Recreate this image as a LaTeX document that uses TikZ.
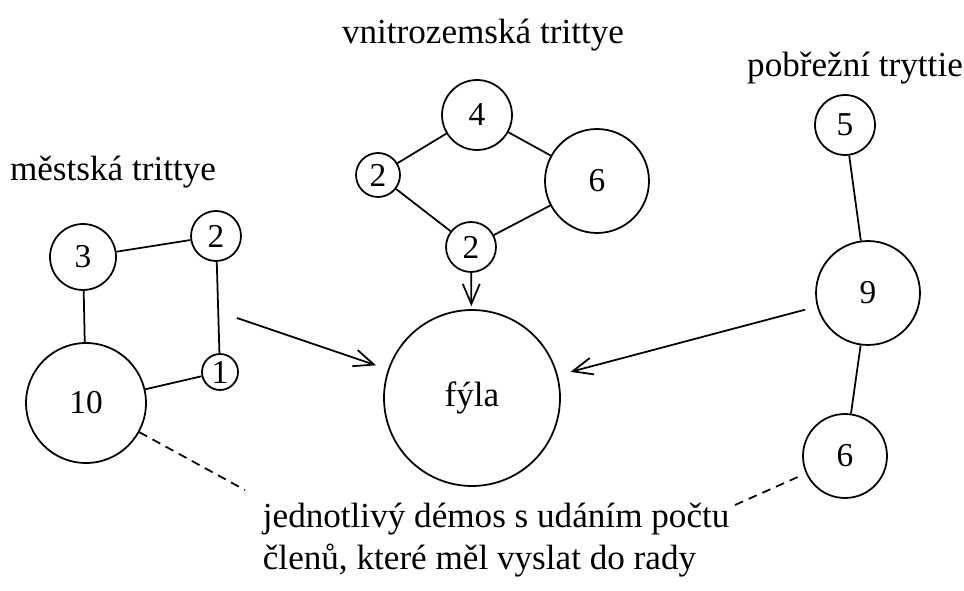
\documentclass[tikz,border=0pt]{standalone}
\usepackage{fontspec}
\setmainfont{Liberation Serif}
\usepackage{tikz}
\usetikzlibrary{arrows,arrows.meta,automata}

\begin{document}
\begin{tikzpicture}[x=0.02cm,y=-0.02cm,>={Straight Barb[length=4mm,width=3.4mm]},auto,
		line width=1pt]
		\tikzstyle{every state}=[fill=white,draw=black,text=black,inner sep=0pt,
		font=\fontsize{19}{22}\selectfont]
		\tikzstyle{heading}=[font=\fontsize{20}{24}\selectfont,inner sep=0pt]
		\useasboundingbox (0,0) rectangle (964,591);
		
		% mestska trittye
		\node[heading] (lm) at (113,172) {městská trittye};
		\node[state, minimum size=1.32cm] (m3)  at (83,257)  {3};
		\node[state, minimum size=1.0cm]  (m2)  at (216,236) {2};
		\node[state, minimum size=0.72cm] (m1)  at (220,372) {1};
		\node[state, minimum size=2.4cm]  (m10) at (86,403)  {10};
		\coordinate (mout) at (237,318);
		
		% vnitrozemska trittye
		\node[heading] (lv) at (483,35) {vnitrozemská trittye};
		\node[state, minimum size=1.4cm]  (v4)  at (477,115) {4};
		\node[state, minimum size=0.88cm] (v2a) at (378,175) {2};
		\node[state, minimum size=2.08cm] (v6)  at (597,181) {6};
		\node[state, minimum size=1.0cm]  (v2b) at (471,247) {2};
		
		% pobrezni trittye
		\node[heading] (lp) at (855,68) {pobřežní tryttie};
		\node[state, minimum size=1.2cm]  (p5) at (845,125) {5};
		\node[state, minimum size=2.08cm] (p9) at (868,293) {9};
		\node[state, minimum size=1.68cm] (p6) at (845,456) {6};
		
		\node[state, minimum size=3.52cm, font=\fontsize{20}{24}\selectfont] (fyla) at (472,398) {fýla};
		
		\node[heading, anchor=west, align=left] (leg) at (262,540)
		{jednotlivý démos s udáním počtu\\členů, které měl vyslat do rady};
		\coordinate (mdash) at (245,490);
		\coordinate (pdash) at (735,505);
		
		\path
		(m3) edge (m2)
		(m3) edge (m10)
		(m2) edge (m1)
		(m1) edge (m10);
		\path
		(v4) edge (v2a)
		(v4) edge (v6)
		(v2a) edge (v2b)
		(v2b) edge (v6);
		\path
		(p5) edge (p9)
		(p9) edge (p6);
		
		\path[->]
		(mout) edge [shorten >=0.25cm] (fyla);
		\path[->]
		(v2b) edge [shorten >=0.06cm] (fyla);
		\path[->]
		(p9) edge [shorten <=0.24cm, shorten >=0.26cm] (fyla);
		
		\path[dash pattern=on 5pt off 3.5pt]
		(m10) edge (mdash);
		\path[dash pattern=on 5pt off 3.5pt]
		(p6) edge [shorten <=0.18cm] (pdash);
		\end{tikzpicture}
\end{document}
